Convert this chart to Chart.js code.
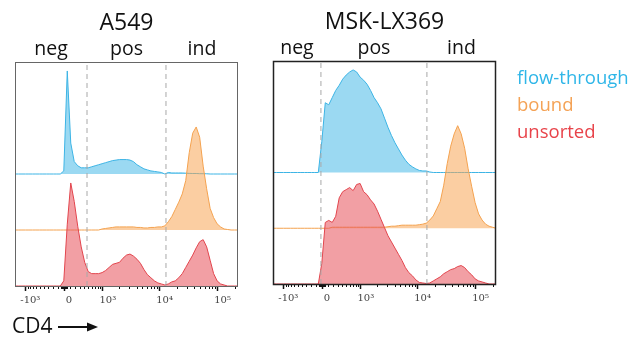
<!DOCTYPE html>
<html>
<head>
<meta charset="utf-8">
<script src="https://cdn.jsdelivr.net/npm/chart.js@4.4.1/dist/chart.umd.min.js"></script>
<style>
  body { margin: 0; background: #fff; width: 637px; height: 341px; overflow: hidden; position: relative; }
  canvas { position: absolute; top: 0; }
  #leftChart { left: 0; }
  #rightChart { left: 258px; }
</style>
</head>
<body>
<canvas id="leftChart" width="258" height="341"></canvas>
<canvas id="rightChart" width="379" height="341"></canvas>
<script>
// histogram bins: display channels 0..256, one bin every 4 channels
const channels = Array.from({ length: 65 }, (_, i) => i * 4);

// counts, % of mode
const a549Flow = [0,0,0,0,0,0,0,0,0,0,0,0,0,0, 3,100,30,12,8,6,6,6,7,8,9,10,11,12,13,13.5,14,14,14,13.5,12,9,7,5,4,3,2.5,2,1.5,0,1.5,1,1,1,1,0.8,0.6,0.5,0.5,0.3,0.3,0.2, 0,0,0,0,0,0,0,0,0];
const a549Bound = [0,0,0,0,0,0,0,0,0,0,0,0,0,0,0,0,0,0,0,0,0,0,0,0,0, 1,1.5,2,2.5,3,3,3,3,3,3,2.5,2.5,2,2,2.5,2.5,3,3,4,8,13,20,27,35,48,75,94,100,90,62,40,21,12,6,3,1,0.5, 0,0,0];
const a549Unsorted = [0,0,0,0,0,0,0,0,0,0,0,0,0,0, 5,60,100,82,58,38,23,14,12,12,12,13,15,18,21,22,23,27,30,31,29,26,22,16,11,8,5,3,2,1,2,4,5,8,12,18,24,30,37,43,45,38,25,12,5,2,1, 0,0,0,0];

const mskFlow = [0,0,0,0,0,0,0,0,0,0,0,0,0,0, 30,68,66,73,80,85,91,95,98,100,98,93,90,86,80,73,68,62,53,44,36,29,23,17,12,8,5.5,3.5,2,1.5,1.5,0.5, 0,0,0,0,0,0,0,0,0,0,0,0,0,0,0,0,0,0,0];
const mskBound = [0,0,0,0,0,0,0,0,0,0,0,0,0,0,0,0,0, 1,1,1,1,1,1,1,1,1,1,1,1,1,1,1, 1,1.5,2,2,2.5,3,3,3,3,3,3.5,4,5,8,12,19,26,42,63,80,92,100,92,78,58,41,25,14,8,4,2,1,0];
const mskUnsorted = [0,0,0,0,0,0,0,0,0,0,0,0,0,0, 20,60,62,60,66,84,90,92,94,91,97,98,90,87,82,78,71,63,55,47,41,35,29,23,16,11,8,4,1.5,1,0.5,1,3,5,7,10,12,14,15,17,18,16,12,9,5,3,2,1, 0,0,0];

// gate boundaries (fluorescence units)
const a549Gates = [470, 12900];
const mskGates = [-20, 14500];
const gateNames = ['neg', 'pos', 'ind'];

const panelTitles = ['A549', 'MSK-LX369'];
const seriesNames = ['flow-through', 'bound', 'unsorted'];

// x axis ticks
const majorTickValues = [-1000, 0, 1000, 10000, 100000];
const majorTickLabels = ['-10\u00B3', '0', '10\u00B3', '10\u2074', '10\u2075'];

// biexponential-like display transform (value -> channel)
const ZERO_CH = 56.3, SCALE_CH = 28.9, COFACTOR = 450;
function toChannel(v) { return ZERO_CH + SCALE_CH * Math.asinh(v / COFACTOR); }

function minorTickValues() {
  const out = [];
  for (let m = 1; m <= 9; m++) { out.push(m * 100, -m * 100); }
  for (let m = 1; m <= 5; m++) { out.push(m * 10, -m * 10); }
  for (let m = 2; m <= 9; m++) { out.push(m * 1000, m * 10000); }
  out.push(200000);
  return out;
}

const colors = {
  flow: { line: '#3cb4e5', fill: 'rgba(72,186,232,0.55)', text: '#2fb6e8' },
  bound: { line: '#f4a24f', fill: 'rgba(247,165,85,0.55)', text: '#f4a255' },
  unsorted: { line: '#e2454d', fill: 'rgba(232,80,90,0.55)', text: '#e8434a' },
};

const PEAK_UNITS = 1.84; // height of a 100% peak in stack units

function histDataset(label, values, base, c, order) {
  return {
    label,
    data: channels.map((ch, i) => ({ x: ch, y: base + values[i] * PEAK_UNITS / 100 })),
    borderColor: c.line,
    backgroundColor: c.fill,
    borderWidth: 1,
    pointRadius: 0,
    tension: 0,
    fill: { value: base },
    order,
  };
}

function gateDataset(g) {
  const ch = toChannel(g);
  return {
    label: 'gate',
    data: [{ x: ch, y: 0 }, { x: ch, y: 4 }],
    borderColor: '#a8a8a8',
    borderWidth: 1,
    borderDash: [5, 4],
    pointRadius: 0,
    fill: false,
    order: 0,
  };
}

// frame, minor ticks, titles, gate names, legend, axis name
const panelDecor = {
  id: 'panelDecor',
  afterDraw(chart, args, opts) {
    const { ctx, chartArea: a, scales: { x } } = chart;
    ctx.save();

    ctx.strokeStyle = '#111';
    ctx.lineWidth = 1;
    minorTickValues().forEach(v => {
      const px = Math.round(x.getPixelForValue(toChannel(v))) + 0.5;
      if (px < a.left || px > a.right) return;
      ctx.beginPath();
      ctx.moveTo(px, a.bottom);
      ctx.lineTo(px, a.bottom + 3);
      ctx.stroke();
    });

    ctx.strokeStyle = opts.frameColor;
    ctx.lineWidth = opts.frameWidth;
    ctx.strokeRect(a.left + 0.5, a.top + 0.5, a.right - a.left - 1, a.bottom - a.top);

    ctx.fillStyle = '#111';
    ctx.textAlign = 'center';
    ctx.textBaseline = 'alphabetic';
    ctx.font = '23px "Open Sans"';
    ctx.fillText(opts.title, (a.left + a.right) / 2, a.top - 32);

    const g1 = x.getPixelForValue(toChannel(opts.gates[0]));
    const g2 = x.getPixelForValue(toChannel(opts.gates[1]));
    const centers = [(a.left + g1) / 2, (g1 + g2) / 2, (g2 + a.right) / 2];
    ctx.font = '19.5px "Open Sans"';
    gateNames.forEach((n, i) => ctx.fillText(n, centers[i], a.top - 7));

    if (opts.legend) {
      ctx.textAlign = 'left';
      ctx.font = '18.5px "Open Sans"';
      const cols = [colors.flow.text, colors.bound.text, colors.unsorted.text];
      seriesNames.forEach((n, i) => {
        ctx.fillStyle = cols[i];
        ctx.fillText(n, a.right + 21, a.top + 23 + i * 27);
      });
    }

    if (opts.axisName) {
      ctx.textAlign = 'left';
      ctx.fillStyle = '#111';
      ctx.font = '21px "Open Sans"';
      const bx = a.left - 3, by = a.bottom + 47;
      ctx.fillText(opts.axisName, bx, by);
      const ay = by - 6;
      ctx.strokeStyle = '#111';
      ctx.lineWidth = 2;
      ctx.beginPath();
      ctx.moveTo(bx + 46, ay);
      ctx.lineTo(bx + 78, ay);
      ctx.stroke();
      ctx.beginPath();
      ctx.moveTo(bx + 86, ay);
      ctx.lineTo(bx + 75, ay - 4.5);
      ctx.lineTo(bx + 75, ay + 4.5);
      ctx.closePath();
      ctx.fill();
    }
    ctx.restore();
  },
};

function makePanel(canvasId, title, flow, bound, unsorted, gates, padding, decor) {
  return new Chart(document.getElementById(canvasId), {
    type: 'line',
    data: {
      datasets: [
        gateDataset(gates[0]),
        gateDataset(gates[1]),
        histDataset(seriesNames[2], unsorted, 0, colors.unsorted, 1),
        histDataset(seriesNames[1], bound, 1, colors.bound, 2),
        histDataset(seriesNames[0], flow, 2, colors.flow, 3),
      ],
    },
    options: {
      responsive: false,
      animation: false,
      events: [],
      layout: { padding },
      plugins: {
        legend: { display: false },
        tooltip: { enabled: false },
        panelDecor: Object.assign({ title, gates }, decor),
      },
      scales: {
        x: {
          type: 'linear',
          min: 0,
          max: 256,
          afterFit: (s) => { s.height = 30; },
          afterBuildTicks: (s) => { s.ticks = majorTickValues.map(v => ({ value: toChannel(v) })); },
          border: { display: false },
          grid: { drawOnChartArea: false, drawTicks: true, tickLength: 5, tickWidth: 1.5, tickColor: '#111' },
          ticks: {
            autoSkip: false,
            maxRotation: 0,
            padding: 3,
            labelOffset: 5,
            color: '#444',
            font: { family: 'DejaVu Serif', size: 10 },
            callback: (val, idx) => majorTickLabels[idx],
          },
        },
        y: { display: false, min: 0, max: 4 },
      },
    },
    plugins: [panelDecor],
  });
}

makePanel('leftChart', panelTitles[0], a549Flow, a549Bound, a549Unsorted, a549Gates,
  { left: 15, right: 20, top: 62, bottom: 25 },
  { frameColor: '#666', frameWidth: 1, axisName: 'CD4' });

makePanel('rightChart', panelTitles[1], mskFlow, mskBound, mskUnsorted, mskGates,
  { left: 15, right: 141, top: 61, bottom: 27 },
  { frameColor: '#222', frameWidth: 1.5, legend: true });
</script>
</body>
</html>
